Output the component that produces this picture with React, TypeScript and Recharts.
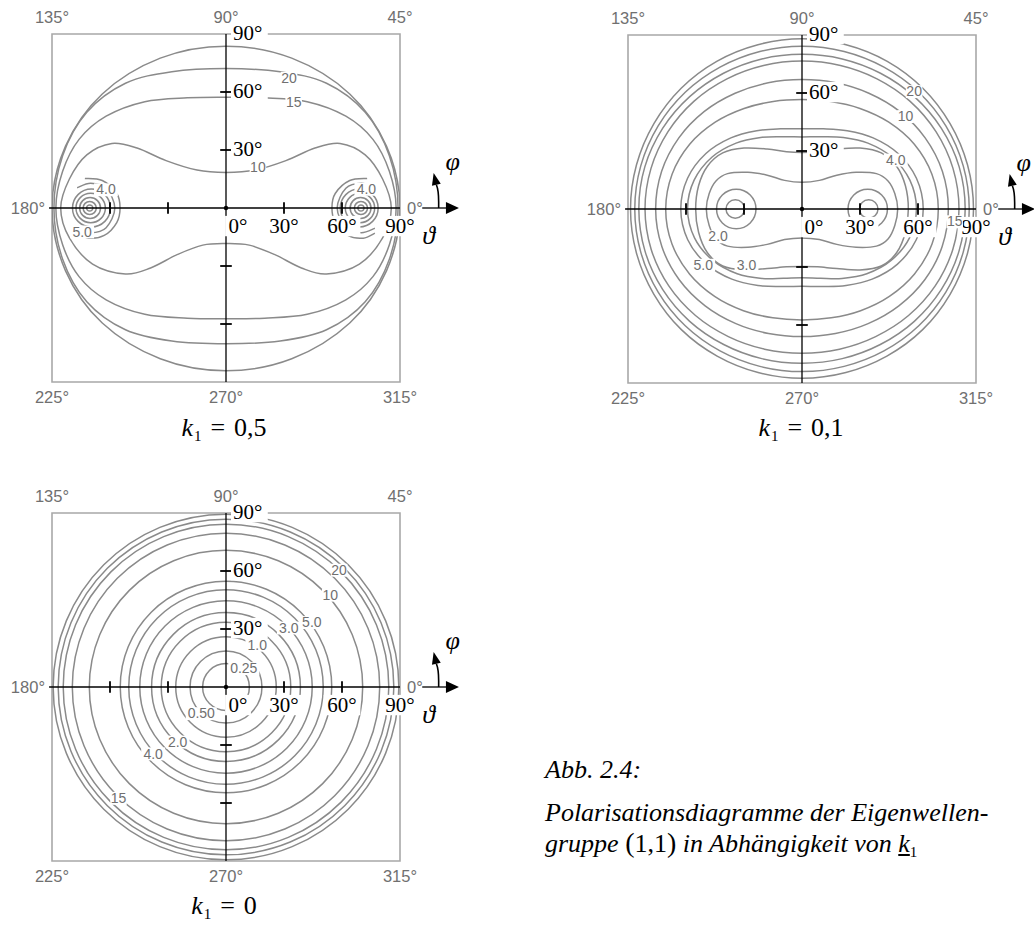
import React from "react";
import {
  ComposedChart,
  Line,
  XAxis,
  YAxis,
  ReferenceArea,
  ReferenceLine,
  ReferenceDot,
} from "recharts";

type Pt = [number, number];
type Half = [Pt[], Pt[]];
type Tag = { text: string; at: Pt };

// azimuth (phi) marks around the frame, polar angle (theta) marks on the axes
const AZIMUTHS = [135, 90, 45, 180, 0, 225, 270, 315];
const THETA_TICKS = [-60, -30, 30, 60];
const THETA_MARKS = [0, 30, 60, 90];

// unit directions used to trace the round contours
const RING_DIRS: Pt[] = [
  [1, 0], [0.7071, 0.7071], [0, 1], [-0.7071, 0.7071],
  [-1, 0], [-0.7071, -0.7071], [0, -1], [0.7071, -0.7071],
];

// ---- k1 = 0,5 ----
// each contour: upper branch (right end -> top) and lower branch (right end -> bottom)
const K05_HALVES: Half[] = [
  [[[90, 0], [83, 32], [64, 59], [34, 77.5], [0, 83.7]],
   [[90, 0], [83, -32.5], [64, -59.5], [34, -78], [0, -84.2]]],
  [[[89, 0], [84.5, 27], [72, 49.5], [52, 64.5], [28, 70.5], [0, 72.1]],
   [[89, 0], [84.5, -26.5], [72, -48.5], [52, -63], [28, -68.8], [0, -70.2]]],
  [[[88, 0], [84.5, 19], [76, 35.5], [62, 47.5], [42, 55], [20, 57], [0, 57.3]],
   [[88, 0], [84.5, -19], [76, -35.5], [62, -47.5], [42, -55], [20, -57], [0, -57.3]]],
  [[[85.5, 0], [81, 15], [72, 27.5], [59, 33.4], [46, 31], [31, 24.5], [15, 19.6], [0, 18.4]],
   [[85.5, 0], [81, -15.5], [69, -29], [52, -34.1], [39, -31], [25, -24], [12, -19.2], [0, -18.4]]],
];
// small closed loops around the two minima: [centre on the 0-axis, radius]
const K05_SPOTS: Pt[] = [
  [-70.5, 1.6], [-70.5, 3.4], [-70.3, 5.4], [-70, 7.6], [-69.6, 9.8],
  [69.8, 1.6], [69.8, 3.4], [69.6, 5.4], [69.3, 7.6], [68.9, 9.8],
];
const K05_ARCS: Pt[][] = [
  [[-77, 10.5], [-70, 12.8], [-62, 10.2], [-57.5, 0], [-62, -10.2], [-70, -12.8], [-77, -10.5]],
  [[-73, 15.3], [-64, 14.2], [-56.5, 7.5], [-54.8, 0], [-56.5, -7.5], [-63, -14.2], [-71, -15.6], [-77, -13]],
  [[77, 10.5], [70, 12.8], [62, 10.2], [57.5, 0], [62, -10.2], [70, -12.8], [77, -10.5]],
  [[73, 15.3], [64, 14.2], [56.5, 7.5], [54.8, 0], [56.5, -7.5], [63, -14.2], [71, -15.6], [77, -13]],
];
const K05_TAGS: Tag[] = [
  { text: "20", at: [32.6, 67.3] },
  { text: "15", at: [35, 54.8] },
  { text: "10", at: [16.5, 21.3] },
  { text: "4.0", at: [-62.1, 9.6] },
  { text: "5.0", at: [-74.4, -12.2] },
  { text: "4.0", at: [72.6, 9.9] },
];

// ---- k1 = 0,1 ----
const K01_HALVES: Half[] = [
  [[[49.5, 0], [48, 8], [44.5, 14.5], [38.5, 18.3], [28, 19], [18, 17.5], [9, 14.8], [0, 13.8]],
   [[49.5, 0], [48, -8.5], [44.5, -15.5], [38.5, -19.2], [28, -19.8], [18, -18.3], [9, -15.8], [0, -15]]],
  [[[55, 0], [53.5, 12], [49, 22], [41, 29], [30, 31.5], [18, 31], [8, 29.6], [0, 29.2]],
   [[55, 0], [53.5, -12], [49, -22.5], [41, -29.5], [30, -31.5], [18, -30.8], [8, -29.9], [0, -29.7]]],
  [[[59.2, 0], [55.8, 14.9], [46.5, 26.9], [34.1, 34.1], [21.4, 37], [10, 37.4], [0, 37.3]],
   [[59.2, 0], [55.6, -14.9], [46.1, -26.6], [33.5, -33.5], [20.7, -35.9], [9.6, -35.8], [0, -35.5]]],
  [[[62.7, 0], [59.2, 15.9], [49.7, 28.7], [36.8, 36.8], [23.4, 40.5], [11.1, 41.5], [0, 41.5]],
   [[62.7, 0], [59.1, -15.9], [49.4, -28.5], [36.3, -36.3], [22.8, -39.6], [10.8, -40.1], [0, -40]]],
  [[[70.5, 0], [67.2, 18], [58.1, 33.5], [44.9, 44.9], [30, 52], [14.9, 55.6], [0, 56.6]],
   [[70.5, 0], [67.3, -18], [58.2, -33.6], [45.2, -45.2], [30.3, -52.6], [15.1, -56.3], [0, -57.4]]],
  [[[75.7, 0], [72.6, 19.5], [63.7, 36.8], [50.5, 50.5], [34.6, 59.9], [17.5, 65.3], [0, 67]],
   [[75.7, 0], [72.5, -19.4], [63.5, -36.6], [50.1, -50.1], [34.2, -59.3], [17.3, -64.4], [0, -66]]],
  [[[81.2, 0], [78.1, 21], [69.3, 40], [55.8, 55.8], [38.8, 67.3], [19.9, 74.2], [0, 76.5]],
   [[81.2, 0], [78, -20.9], [68.9, -39.8], [55.1, -55.1], [38.1, -66], [19.4, -72.5], [0, -74.6]]],
  [[[84.4, 0], [81.3, 21.8], [72.1, 41.7], [58.1, 58.1], [40.6, 70.2], [20.8, 77.6], [0, 80]],
   [[84.4, 0], [81.2, -21.8], [72.1, -41.6], [58.1, -58.1], [40.5, -70.1], [20.8, -77.4], [0, -79.8]]],
  [[[86.5, 0], [83.4, 22.3], [74.4, 43], [60.4, 60.4], [42.4, 73.4], [21.8, 81.5], [0, 84.2]],
   [[86.5, 0], [83.4, -22.3], [74.4, -43], [60.4, -60.4], [42.4, -73.4], [21.8, -81.4], [0, -84.1]]],
  [[[88.7, 0], [85.6, 22.9], [76.6, 44.2], [62.5, 62.5], [44.1, 76.4], [22.8, 85], [0, 88]],
   [[88.7, 0], [85.6, -22.9], [76.6, -44.1], [62.4, -62.4], [43.9, -76.1], [22.7, -84.6], [0, -87.6]]],
];
const K01_SPOTS: Pt[] = [[-34.5, 4.8], [-34, 10.2], [34.5, 4.8], [34, 10.2]];
const K01_TAGS: Tag[] = [
  { text: "20", at: [58, 60.9] },
  { text: "10", at: [53.5, 48] },
  { text: "4.0", at: [48.5, 25.5] },
  { text: "2.0", at: [-43.4, -14.2] },
  { text: "5.0", at: [-51.1, -28.9] },
  { text: "3.0", at: [-28.7, -28.9] },
  { text: "15", at: [79, -6.4] },
];

// ---- k1 = 0 ----  concentric contours, radius in degrees of theta
const K0_RINGS = [12.1, 18.6, 26, 33.5, 38.5, 44.6, 50.3, 54.7, 70.7, 79.5, 84.2, 86.8, 89.4];
const K0_TAGS: Tag[] = [
  { text: "20", at: [58.5, 60.6] },
  { text: "10", at: [53.9, 47.7] },
  { text: "5.0", at: [44.4, 33.5] },
  { text: "3.0", at: [32.5, 30.7] },
  { text: "1.0", at: [16.2, 21.8] },
  { text: "0.25", at: [9.2, 9.7] },
  { text: "0.50", at: [-12.8, -13.6] },
  { text: "2.0", at: [-25, -28.3] },
  { text: "4.0", at: [-37.7, -34.4] },
  { text: "15", at: [-55.6, -57.4] },
];

const SERIF = "'Liberation Serif', 'Times New Roman', 'DejaVu Serif', serif";
const SANS = "'Liberation Sans', Arial, sans-serif";
const LINE = "#8a8a8a";
const FRAME = "#a8a8a8";
const TEXT_GRAY = "#707070";

const PLOT = 348;
const M = { top: 40, right: 92, bottom: 36, left: 62 };

// Catmull-Rom style curve for recharts' Line (closed or open)
const spline = (closed: boolean, tension: number) => (ctx: any) => {
  let pts: Pt[] = [];
  return {
    areaStart() {},
    areaEnd() {},
    lineStart() {
      pts = [];
    },
    point(x: number, y: number) {
      pts.push([+x, +y]);
    },
    lineEnd() {
      const n = pts.length;
      if (n < 2) return;
      const at = (i: number) => (closed ? pts[(i + n) % n] : pts[Math.min(n - 1, Math.max(0, i))]);
      ctx.moveTo(pts[0][0], pts[0][1]);
      const segs = closed ? n : n - 1;
      for (let i = 0; i < segs; i++) {
        const a = at(i - 1), b = at(i), c = at(i + 1), d = at(i + 2);
        ctx.bezierCurveTo(
          b[0] + (c[0] - a[0]) * tension, b[1] + (c[1] - a[1]) * tension,
          c[0] - (d[0] - b[0]) * tension, c[1] - (d[1] - b[1]) * tension,
          c[0], c[1]
        );
      }
      if (closed) ctx.closePath();
    },
  };
};

const CLOSED = spline(true, 1 / 6);
const OPEN = spline(false, 1 / 6);
const ROUND = spline(true, 0.1875);

const flip = ([u, v]: Pt): Pt => [-u, v];
// the diagrams are symmetric about the vertical axis
const loop = ([up, down]: Half): Pt[] => [
  ...up,
  ...up.slice(0, -1).reverse().map(flip),
  ...down.slice(1).map(flip),
  ...down.slice(1, -1).reverse(),
];
const ring = (cu: number, r: number): Pt[] => RING_DIRS.map(([dx, dy]) => [cu + r * dx, r * dy] as Pt);
const rows = (pts: Pt[]) => pts.map(([x, y]) => ({ x, y }));

type Series = { pts: Pt[]; curve: any };

const K05_SERIES: Series[] = [
  ...K05_HALVES.map((h) => ({ pts: loop(h), curve: CLOSED })),
  ...K05_SPOTS.map(([c, r]) => ({ pts: ring(c, r), curve: ROUND })),
  ...K05_ARCS.map((a) => ({ pts: a, curve: OPEN })),
];
const K01_SERIES: Series[] = [
  ...K01_HALVES.map((h) => ({ pts: loop(h), curve: CLOSED })),
  ...K01_SPOTS.map(([c, r]) => ({ pts: ring(c, r), curve: ROUND })),
];
const K0_SERIES: Series[] = K0_RINGS.map((r) => ({ pts: ring(0, r), curve: ROUND }));

function Boxed({ x, y, text, size, font, color, anchor = "middle", pad = 2 }: any) {
  const w = text.length * size * 0.52 + pad * 2;
  const x0 = anchor === "start" ? x - pad : anchor === "end" ? x - w + pad : x - w / 2;
  return (
    <g>
      <rect x={x0} y={y - size * 0.72 - pad} width={w} height={size * 0.78 + pad * 2} fill="#fff" />
      <text x={x} y={y} textAnchor={anchor} fontFamily={font} fontSize={size} fill={color}>
        {text}
      </text>
    </g>
  );
}

const AxisArrow = (p: any) => <path d={`M${p.cx},${p.cy} l-13,-6 l0,12 z`} fill="#000" />;

const phiArrow = (phiDx: number) => (p: any) => {
  const { cx, cy } = p;
  return (
    <g>
      <path d={`M${cx},${cy} l0,-6 q0,-12 -2.3,-17.3`} fill="none" stroke="#000" strokeWidth={1.6} />
      <path d={`M${cx - 5},${cy - 35} L${cx + 2.1},${cy - 24.3} L${cx - 6.7},${cy - 22.3} Z`} fill="#000" />
      <text x={cx + phiDx} y={cy - 38} textAnchor="middle" fontFamily={SERIF} fontStyle="italic" fontSize={26}>
        φ
      </text>
      <text x={cx - 10} y={cy + 36} textAnchor="middle" fontFamily={SERIF} fontStyle="italic" fontSize={26}>
        ϑ
      </text>
    </g>
  );
};

interface PanelProps {
  left: number;
  top: number;
  series: Series[];
  tags: Tag[];
  phiDx?: number;
}

function Panel({ left, top, series, tags, phiDx = 14 }: PanelProps) {
  return (
    <div style={{ position: "absolute", left: left - M.left, top: top - M.top }}>
      <ComposedChart width={M.left + PLOT + M.right} height={M.top + PLOT + M.bottom} margin={M}>
        <XAxis type="number" dataKey="x" domain={[-90, 90]} allowDataOverflow hide />
        <YAxis type="number" dataKey="y" domain={[-90, 90]} allowDataOverflow hide />
        <ReferenceArea x1={-90} x2={90} y1={-90} y2={90} fill="none" stroke={FRAME} strokeWidth={1.6} />
        {series.map((s, i) => (
          <Line
            key={i}
            data={rows(s.pts)}
            dataKey="y"
            type={s.curve}
            stroke={LINE}
            strokeWidth={1.5}
            dot={false}
            activeDot={false}
            isAnimationActive={false}
          />
        ))}
        <ReferenceLine segment={[{ x: -91.5, y: 0 }, { x: 90, y: 0 }]} stroke="#000" strokeWidth={1.3} ifOverflow="visible" />
        <ReferenceLine segment={[{ x: 101.5, y: 0 }, { x: 115, y: 0 }]} stroke="#000" strokeWidth={1.3} ifOverflow="visible" />
        <ReferenceLine x={0} stroke="#000" strokeWidth={1.3} />
        {THETA_TICKS.map((t) => (
          <ReferenceLine key={"h" + t} segment={[{ x: t, y: -3 }, { x: t, y: 3 }]} stroke="#000" strokeWidth={1.8} />
        ))}
        {THETA_TICKS.map((t) => (
          <ReferenceLine key={"v" + t} segment={[{ x: -3, y: t }, { x: 3, y: t }]} stroke="#000" strokeWidth={1.8} />
        ))}
        <ReferenceDot x={0} y={0} r={2.2} fill="#000" stroke="none" />
        <ReferenceDot x={120.5} y={0} ifOverflow="visible" shape={AxisArrow} />
        <ReferenceDot x={110} y={0} ifOverflow="visible" shape={phiArrow(phiDx)} />
        {AZIMUTHS.map((a) => {
          const dx = Math.round(Math.cos((a * Math.PI) / 180));
          const dy = Math.round(Math.sin((a * Math.PI) / 180));
          return (
            <ReferenceDot
              key={"az" + a}
              x={dx * 90}
              y={dy * 90}
              ifOverflow="visible"
              shape={(p: any) => {
                const side = dy === 0;
                const x = side ? p.cx + dx * 7 : p.cx;
                const y = side ? p.cy + 6 : dy > 0 ? p.cy - 11 : p.cy + 21;
                const anchor = side ? (dx > 0 ? "start" : "end") : "middle";
                return (
                  <text x={x} y={y} textAnchor={anchor} fontFamily={SANS} fontSize={16.5} fill={TEXT_GRAY}>
                    {a}°
                  </text>
                );
              }}
            />
          );
        })}
        {THETA_MARKS.filter((t) => t > 0).map((t) => (
          <ReferenceDot
            key={"vl" + t}
            x={0}
            y={t}
            ifOverflow="visible"
            shape={(p: any) => (
              <Boxed x={p.cx + 7} y={p.cy + 6} text={`${t}°`} size={21} font={SERIF} color="#000" anchor="start" />
            )}
          />
        ))}
        {THETA_MARKS.map((t) => (
          <ReferenceDot
            key={"hl" + t}
            x={t}
            y={0}
            ifOverflow="visible"
            shape={(p: any) => (
              <Boxed x={p.cx + (t === 0 ? 12 : 0)} y={p.cy + 25} text={`${t}°`} size={21} font={SERIF} color="#000" />
            )}
          />
        ))}
        {tags.map((t, i) => (
          <ReferenceDot
            key={"tag" + i}
            x={t.at[0]}
            y={t.at[1]}
            ifOverflow="visible"
            shape={(p: any) => (
              <Boxed x={p.cx} y={p.cy + 5} text={t.text} size={14} font={SANS} color={TEXT_GRAY} pad={1} />
            )}
          />
        ))}
      </ComposedChart>
    </div>
  );
}

function Caption({ x, top, value }: { x: number; top: number; value: string }) {
  return (
    <div
      style={{
        position: "absolute",
        left: x - 80,
        top,
        width: 160,
        textAlign: "center",
        fontFamily: SERIF,
        fontSize: 26,
        lineHeight: "30px",
        whiteSpace: "nowrap",
      }}
    >
      <i>k</i>
      <span style={{ fontSize: 15, position: "relative", top: 5, marginLeft: 1 }}>1</span>
      <span style={{ margin: "0 9px" }}>=</span>
      {value}
    </div>
  );
}

const noteLine: React.CSSProperties = {
  position: "absolute",
  left: 545,
  fontFamily: SERIF,
  fontStyle: "italic",
  fontSize: 26,
  lineHeight: "30px",
  whiteSpace: "nowrap",
};

export default function App() {
  return (
    <div
      style={{
        position: "absolute",
        left: 0,
        top: 0,
        width: 1034,
        height: 925,
        overflow: "hidden",
        background: "#fff",
      }}
    >
      <Panel left={52} top={34} series={K05_SERIES} tags={K05_TAGS} />
      <Panel left={628} top={35} series={K01_SERIES} tags={K01_TAGS} phiDx={9} />
      <Panel left={52} top={513} series={K0_SERIES} tags={K0_TAGS} />
      <Caption x={224} top={413} value="0,5" />
      <Caption x={801} top={413} value="0,1" />
      <Caption x={224} top={891} value="0" />
      <div style={{ ...noteLine, top: 755 }}>Abb. 2.4:</div>
      <div style={{ ...noteLine, top: 798 }}>Polarisationsdiagramme der Eigenwellen-</div>
      <div style={{ ...noteLine, top: 828 }}>
        gruppe <span style={{ fontStyle: "normal", fontSize: 28 }}>(</span>
        <span style={{ fontStyle: "normal" }}>1,1</span>
        <span style={{ fontStyle: "normal", fontSize: 28 }}>)</span> in Abhängigkeit von{" "}
        <span style={{ textDecoration: "underline" }}>k</span>
        <span style={{ fontStyle: "normal", fontSize: 15, position: "relative", top: 5 }}>1</span>
      </div>
    </div>
  );
}
